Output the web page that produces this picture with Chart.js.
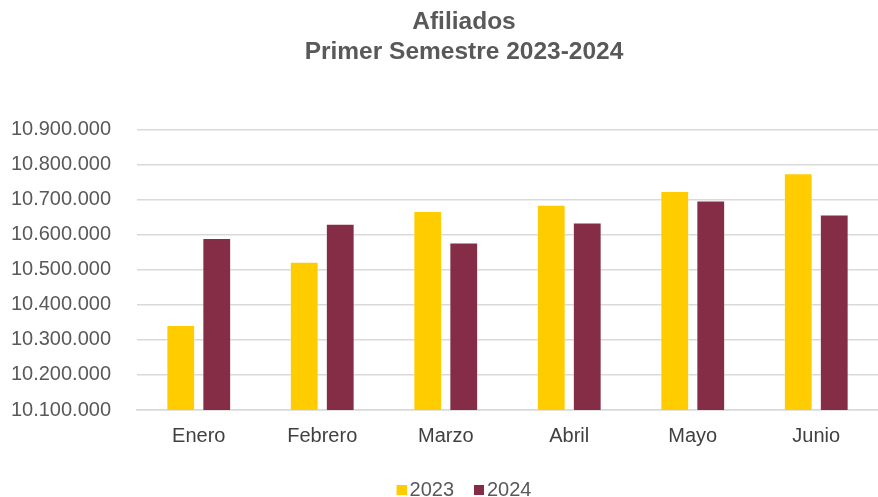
<!DOCTYPE html>
<html>
<head>
<meta charset="utf-8">
<script src="https://cdn.jsdelivr.net/npm/chart.js@4"></script>
<style>
  html, body { margin: 0; padding: 0; background: #fff; overflow: hidden; }
  #wrap { width: 878px; height: 510px; position: relative; }
</style>
</head>
<body>
<div id="wrap"><canvas id="myChart"></canvas></div>
<script>
// datos
const meses = ['Enero', 'Febrero', 'Marzo', 'Abril', 'Mayo', 'Junio'];
const afiliados2023 = [10343000, 10523000, 10668000, 10686000, 10725000, 10776000];
const afiliados2024 = [10591000, 10632000, 10578000, 10635000, 10698000, 10658000];
const titulo = ['Afiliados', 'Primer Semestre 2023-2024'];
const colores = ['#FFCC00', '#852D46'];

// separador de miles con punto
function formatoMiles(v) {
    return String(Math.round(v)).replace(/\B(?=(\d{3})+(?!\d))/g, '.');
}

// cuadrito de la leyenda, pegado al texto como en Excel
function cuadroLeyenda(color) {
    const c = document.createElement('canvas');
    c.width = 17;
    c.height = 10;
    const g = c.getContext('2d');
    g.fillStyle = color;
    g.fillRect(7, 0, 10, 10);
    return c;
}
const cuadros = colores.map(cuadroLeyenda);

// en el original el titulo y la leyenda estan corridos a la derecha
const correrCentro = {
    id: 'correrCentro',
    afterLayout(chart) {
        chart.titleBlock.left += 42;
        chart.legend.left += 42;
    }
};

const fuente = 'Liberation Sans, Arial, sans-serif';

const ctx = document.getElementById('myChart').getContext('2d');
const myChart = new Chart(ctx, {
    type: 'bar',
    data: {
        labels: meses,
        datasets: [{
            label: '2023',
            data: afiliados2023,
            backgroundColor: colores[0],
            borderColor: 'rgba(255,255,255,0.35)',
            borderWidth: 1
        }, {
            label: '2024',
            data: afiliados2024,
            backgroundColor: colores[1],
            borderColor: 'rgba(255,255,255,0.35)',
            borderWidth: 1
        }]
    },
    options: {
        responsive: true,
        maintainAspectRatio: false,
        animation: false,
        datasets: {
            bar: {
                categoryPercentage: 0.583,
                barPercentage: 0.8
            }
        },
        layout: {
            padding: { left: 8, right: 0, top: 0, bottom: 0 }
        },
        plugins: {
            title: {
                display: true,
                text: titulo,
                color: '#595959',
                font: { family: fuente, size: 24.5, weight: 'bold', lineHeight: 1.22 },
                padding: { top: 7, bottom: 63 }
            },
            legend: {
                position: 'bottom',
                labels: {
                    color: '#595959',
                    font: { family: fuente, size: 20 },
                    usePointStyle: true,
                    pointStyleWidth: 3,
                    boxHeight: 10,
                    padding: 20,
                    generateLabels: function (chart) {
                        const items = Chart.defaults.plugins.legend.labels.generateLabels(chart);
                        items.forEach((it, i) => { it.pointStyle = cuadros[i]; });
                        return items;
                    }
                }
            },
            tooltip: { enabled: false }
        },
        scales: {
            x: {
                grid: { display: false, drawTicks: false },
                border: { display: true, color: '#D9D9D9', width: 1.5 },
                ticks: {
                    color: '#404040',
                    font: { family: fuente, size: 20 },
                    padding: 14
                },
                afterFit: function (scale) {
                    scale.height = 50;
                }
            },
            y: {
                min: 10100000,
                max: 10900000,
                grid: { color: '#D9D9D9', lineWidth: 1.5, drawTicks: false },
                border: { display: false },
                ticks: {
                    stepSize: 100000,
                    color: '#595959',
                    font: { family: fuente, size: 20 },
                    padding: 26,
                    callback: function (value) {
                        return formatoMiles(value);
                    }
                },
                afterFit: function (scale) {
                    scale.width = 129;
                }
            }
        }
    },
    plugins: [correrCentro]
});
</script>
</body>
</html>
